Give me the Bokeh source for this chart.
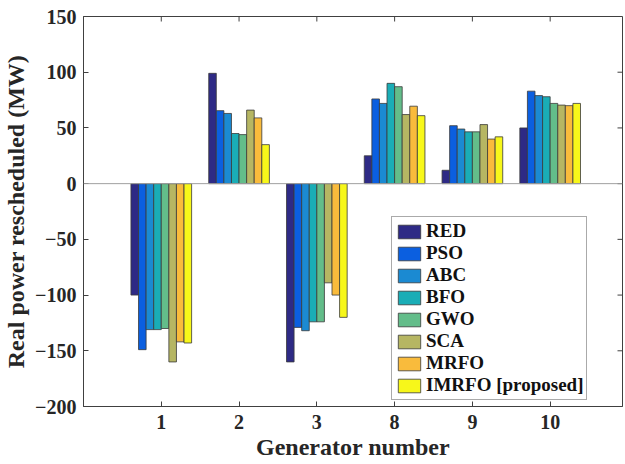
from bokeh.plotting import figure
from bokeh.models import (ColumnDataSource, FixedTicker, Range1d,
                          Span, Legend, LegendItem)
from bokeh.embed import file_html
from bokeh.resources import INLINE

generators = ["1", "2", "3", "8", "9", "10"]
methods = ["RED", "PSO", "ABC", "BFO", "GWO", "SCA", "MRFO", "IMRFO [proposed]"]
red = [-100, 99, -160, 25, 12, 50]
pso = [-149, 65.5, -129, 76, 52, 83]
abc = [-131, 63, -132, 72, 49, 79]
bfo = [-131, 45, -124, 90, 46.5, 78]
gwo = [-130, 44, -124, 87, 46.5, 72]
sca = [-160, 66, -89, 62, 53, 70.5]
mrfo = [-142, 59, -100, 69.5, 40, 70]
imrfo = [-143, 35, -120, 61, 42, 72]
series = [red, pso, abc, bfo, gwo, sca, mrfo, imrfo]
y_ticks = [-200, -150, -100, -50, 0, 50, 100, 150]
colors = ["#2e2a85", "#0b5fe0", "#1b8ad2", "#1aadb6", "#63bd8a", "#b6b663",
          "#f9bb3c", "#f7f71a"]

FONT = "Liberation Serif"
TXT = "#262626"
X0, X1, Y0, Y1 = 0, 6.93, -200, 150

p = figure(width=625, height=464, output_backend="svg", toolbar_location=None,
           x_range=Range1d(X0, X1), y_range=Range1d(Y0, Y1),
           min_border_left=82, min_border_right=3, min_border_top=16,
           min_border_bottom=58)
p.xgrid.grid_line_color = None
p.ygrid.grid_line_color = None
p.outline_line_color = "#404040"

n = len(methods)
bw = 0.0975
items = []
for j, (vals, col, name) in enumerate(zip(series, colors, methods)):
    xs = [i + 1 + (j - (n - 1) / 2) * bw for i in range(len(generators))]
    src = ColumnDataSource(dict(x=xs, top=vals))
    r = p.vbar(x="x", top="top", bottom=0, width=bw, source=src,
               fill_color=col, line_color="#3a3a3a", line_width=0.8)
    items.append(LegendItem(label=name, renderers=[r]))

p.add_layout(Span(location=0, dimension="width", line_color="#a0a0a0",
                  line_width=1))

# inward ticks on the top and right edges of the box
ticks = list(range(1, len(generators) + 1))
tx = 5 * (X1 - X0) / 540
ty = 5 * (Y1 - Y0) / 390
p.segment(x0=ticks, x1=ticks, y0=[Y1] * len(ticks), y1=[Y1 - ty] * len(ticks),
          line_color="#404040", line_width=1)
p.segment(x0=[X1] * len(y_ticks), x1=[X1 - tx] * len(y_ticks), y0=y_ticks,
          y1=y_ticks, line_color="#404040", line_width=1)

p.xaxis.ticker = FixedTicker(ticks=ticks)
p.xaxis.major_label_overrides = {t: g for t, g in zip(ticks, generators)}
p.yaxis.ticker = FixedTicker(ticks=y_ticks)

p.axis.major_tick_in = 5
p.axis.major_tick_out = 0
p.axis.minor_tick_line_color = None
p.axis.axis_line_color = "#404040"
p.axis.major_tick_line_color = "#404040"
p.axis.major_label_text_font = FONT
p.axis.major_label_text_font_style = "bold"
p.axis.major_label_text_font_size = "20px"
p.axis.major_label_text_color = TXT
p.axis.axis_label_text_font = FONT
p.axis.axis_label_text_font_style = "bold"
p.axis.axis_label_text_font_size = "24px"
p.axis.axis_label_text_color = TXT

p.xaxis.axis_label = "Generator number"
p.yaxis.axis_label = "Real power rescheduled (MW)"
p.xaxis.major_label_standoff = 8
p.yaxis.major_label_standoff = 7
p.xaxis.axis_label_standoff = 2
p.yaxis.axis_label_standoff = 3

legend = Legend(items=items, location=(308, 6))
legend.label_text_font = FONT
legend.label_text_font_style = "bold"
legend.label_text_font_size = "19px"
legend.label_text_color = "#111111"
legend.glyph_width = 28
legend.glyph_height = 17
legend.label_height = 20
legend.label_standoff = 3
legend.spacing = 0
legend.padding = 3
legend.margin = 0
legend.border_line_color = "#555555"
legend.border_line_width = 1
legend.background_fill_alpha = 1
p.add_layout(legend)

open("out.html", "w").write(file_html(p, INLINE))
